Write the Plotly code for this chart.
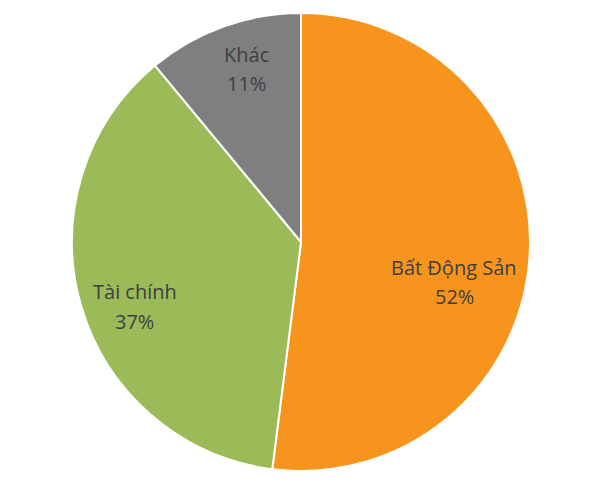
import plotly.graph_objects as go

labels = ["Bất Động Sản", "Tài chính", "Khác"]
values = [52, 37, 11]
colors = ["#F7941D", "#9BBB59", "#7F7F7F"]

W, H = 598, 500
PAGE_OFF = 8  # default body margin of the html page
ML, MR, MT, MB = 64, 76, 5, 37

# label placement (screen pixel centres of each text line) - layout only
name_pos = [(454, 267), (135, 291), (246, 55)]
pct_pos = [(454, 296), (134, 321), (246, 83)]

fig = go.Figure(go.Pie(
    labels=labels,
    values=values,
    sort=False,
    direction="clockwise",
    rotation=0,
    marker=dict(colors=colors, line=dict(color="white", width=2)),
    textinfo="none",
    hoverinfo="label+percent",
))

pw = W - ML - MR
ph = H - MT - MB


def to_paper(px, py):
    return (px - PAGE_OFF - ML) / pw, 1 - (py - PAGE_OFF - MT) / ph


total = sum(values)
font = dict(family="Open Sans", size=20, color="#404040")
for lab, v, (nx, ny), (qx, qy) in zip(labels, values, name_pos, pct_pos):
    x1, y1 = to_paper(nx, ny)
    x2, y2 = to_paper(qx, qy)
    fig.add_annotation(x=x1, y=y1, xref="paper", yref="paper", text=lab,
                       showarrow=False, xanchor="center", yanchor="middle", font=font)
    fig.add_annotation(x=x2, y=y2, xref="paper", yref="paper",
                       text=f"{round(100 * v / total)}%",
                       showarrow=False, xanchor="center", yanchor="middle", font=font)

fig.update_layout(
    width=W, height=H,
    margin=dict(l=ML, r=MR, t=MT, b=MB),
    showlegend=False,
    paper_bgcolor="white",
    plot_bgcolor="white",
)
fig.write_html("out.html")
